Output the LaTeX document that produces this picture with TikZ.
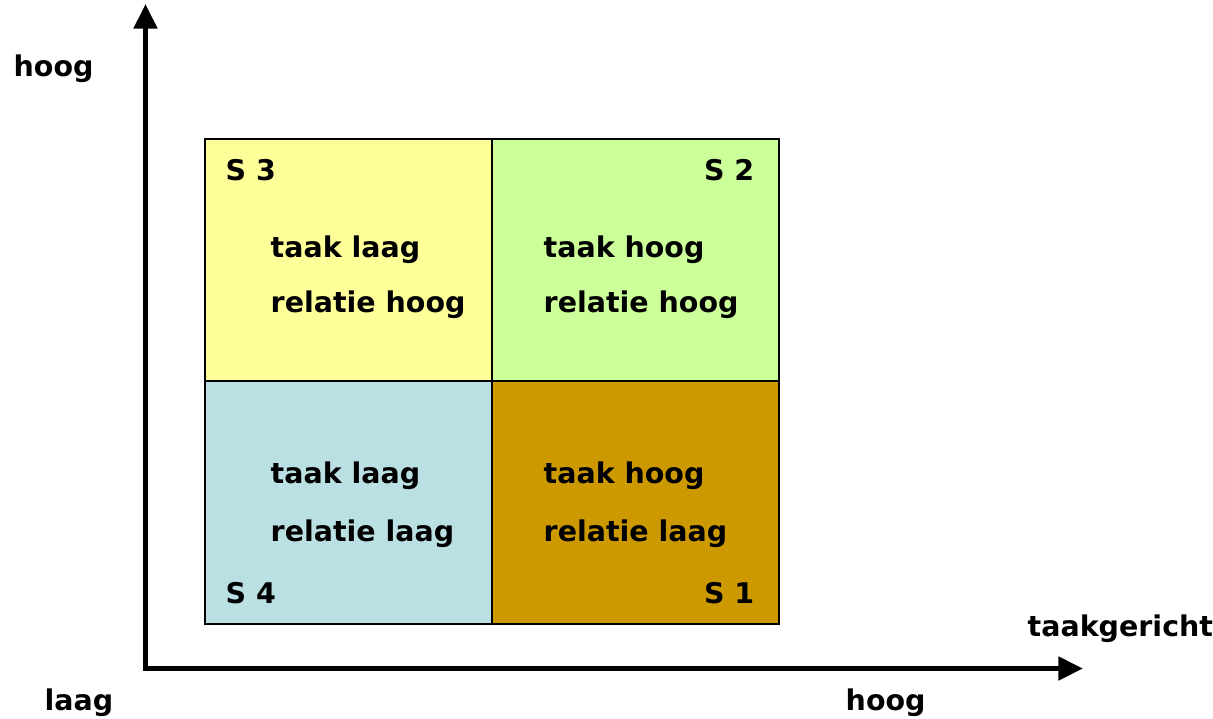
\documentclass[tikz,border=0pt]{standalone}
\usepackage{fontspec}
\setmainfont{DejaVu Sans}
\usetikzlibrary{arrows.meta}
\definecolor{quadYellow}{HTML}{FFFF99}
\definecolor{quadGreen}{HTML}{CCFF99}
\definecolor{quadBlue}{HTML}{BBE0E3}
\definecolor{quadBrown}{HTML}{CC9900}
\begin{document}
\begin{tikzpicture}[
    x=0.01cm, y=-0.01cm,
    every node/.style={inner sep=0pt, font=\fontsize{8.1pt}{10pt}\selectfont\bfseries},
    quad/.style={draw, line width=0.6pt, minimum width=2.87cm, minimum height=2.42cm},
    axis/.style={draw, line width=1.5pt, {Triangle[length=7pt, width=6.5pt]}-{Triangle[length=7pt, width=6.5pt]}},
    ]
\useasboundingbox (0,0) rectangle (1213,718);
\node[quad, fill=quadYellow] (S3box) at (348.5,260.5) {};
\node[quad, fill=quadGreen] (S2box) at (635.5,260.5) {};
\node[quad, fill=quadBlue] (S4box) at (348.5,502.5) {};
\node[quad, fill=quadBrown] (S1box) at (635.5,502.5) {};
\node[anchor=base west] (S3) at (225,180) {S 3};
\node[anchor=base east] (S2) at (755,180) {S 2};
\node[anchor=base west] (S4) at (225,603) {S 4};
\node[anchor=base east] (S1) at (755,603) {S 1};
\node[anchor=base west] (S3taak) at (270,257) {taak laag};
\node[anchor=base west] (S3rel) at (270,312) {relatie hoog};
\node[anchor=base west] (S2taak) at (543,257) {taak hoog};
\node[anchor=base west] (S2rel) at (543,312) {relatie hoog};
\node[anchor=base west] (S4taak) at (270,483) {taak laag};
\node[anchor=base west] (S4rel) at (270,541) {relatie laag};
\node[anchor=base west] (S1taak) at (543,483) {taak hoog};
\node[anchor=base west] (S1rel) at (543,541) {relatie laag};
\coordinate (origin) at (145.5,668.5);
\coordinate (ytop) at (145.5,4);
\coordinate (xend) at (1083,668.5);
\draw[axis] (ytop) -- (origin) -- (xend);
\node[anchor=base west] (yhigh) at (13,76) {hoog};
\node[anchor=base west] (xlow) at (44,710) {laag};
\node[anchor=base west] (xhigh) at (845,710) {hoog};
\node[anchor=base west] (xlabel) at (1027,636) {taakgericht};
\end{tikzpicture}
\end{document}
